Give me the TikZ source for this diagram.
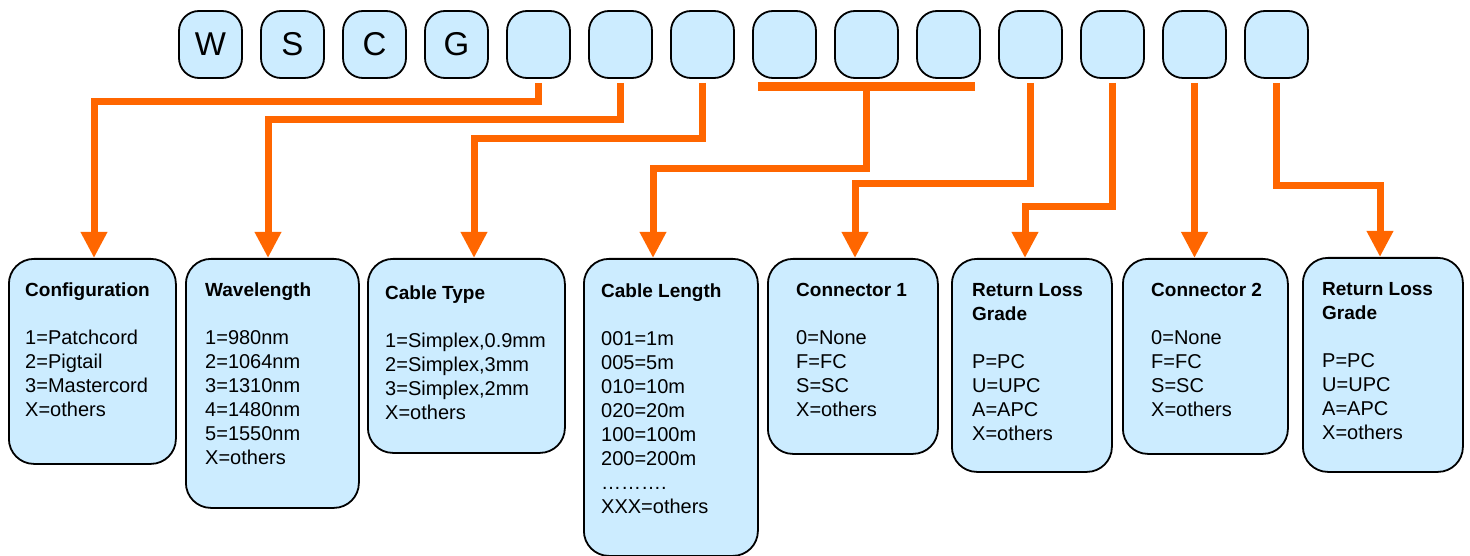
\documentclass[tikz,border=0pt]{standalone}
\usepackage{fontspec}
\setmainfont{Liberation Sans}
\usetikzlibrary{arrows.meta,calc}
\definecolor{lblue}{RGB}{204,236,255}
\definecolor{org}{RGB}{255,102,0}
\tikzset{
  topbox/.style={draw=black, line width=1.8pt, rounded corners=20pt, fill=lblue,
    minimum width=63pt, minimum height=67pt, inner sep=0pt,
    font=\fontsize{33}{38}\selectfont},
  bbox/.style={draw=black, line width=1.8pt, rounded corners=25pt, fill=lblue,
    anchor=north west, inner sep=0pt},
  btext/.style={anchor=north west, inner sep=0pt, align=left,
    font=\fontsize{20}{24}\selectfont},
  conn/.style={draw=org, line width=7pt, shorten <=4pt,
    -{Triangle[length=26pt,width=25pt]}},
  barline/.style={draw=org, line width=9pt},
}
\newcommand{\ttl}[1]{{\fontsize{19}{24}\selectfont\bfseries #1}}
\begin{document}
\begin{tikzpicture}[x=1pt,y=-1pt]
\useasboundingbox (0,0) rectangle (1470,556);
% top boxes
\foreach \i/\l in {1/W,2/S,3/C,4/G,5/,6/,7/,8/,9/,10/,11/,12/,13/,14/}{
  \node[topbox] (b\i) at ({210.5+82*(\i-1)},44.5) {\l};
}
% bottom boxes
\node[bbox, minimum width=167pt, minimum height=205pt] (cfg) at (8,258) {};
\node[bbox, minimum width=173pt, minimum height=249pt] (wav) at (185,258) {};
\node[bbox, minimum width=197pt, minimum height=194pt] (typ) at (367,258) {};
\node[bbox, minimum width=174pt, minimum height=297pt] (len) at (583,258) {};
\node[bbox, minimum width=170pt, minimum height=195pt] (con1) at (767,258) {};
\node[bbox, minimum width=160pt, minimum height=213pt] (rl1) at (951,258) {};
\node[bbox, minimum width=165pt, minimum height=195pt] (con2) at (1122,258) {};
\node[bbox, minimum width=160pt, minimum height=214pt] (rl2) at (1302,257) {};
% texts
\node[btext] (cfgt) at ($(cfg.north west)+(17,21)$) {\strut\ttl{Configuration}\\[24pt]1=Patchcord\\2=Pigtail\\3=Mastercord\\X=others};
\node[btext] (wavt) at ($(wav.north west)+(20,21)$) {\strut\ttl{Wavelength}\\[24pt]1=980nm\\2=1064nm\\3=1310nm\\4=1480nm\\5=1550nm\\X=others};
\node[btext] (typt) at ($(typ.north west)+(18,24)$) {\strut\ttl{Cable Type}\\[24pt]1=Simplex,0.9mm\\2=Simplex,3mm\\3=Simplex,2mm\\X=others};
\node[btext] (lent) at ($(len.north west)+(18,22)$) {\strut\ttl{Cable Length}\\[24pt]001=1m\\005=5m\\010=10m\\020=20m\\100=100m\\200=200m\\……….\\XXX=others};
\node[btext] (con1t) at ($(con1.north west)+(29,21)$) {\strut\ttl{Connector 1}\\[24pt]0=None\\F=FC\\S=SC\\X=others};
\node[btext] (rl1t) at ($(rl1.north west)+(21,21)$) {\strut\ttl{Return Loss}\\\ttl{Grade}\\[24pt]P=PC\\U=UPC\\A=APC\\X=others};
\node[btext] (con2t) at ($(con2.north west)+(29,21)$) {\strut\ttl{Connector 2}\\[24pt]0=None\\F=FC\\S=SC\\X=others};
\node[btext] (rl2t) at ($(rl2.north west)+(20,21)$) {\strut\ttl{Return Loss}\\\ttl{Grade}\\[24pt]P=PC\\U=UPC\\A=APC\\X=others};
% elbow coordinates
\coordinate (k1) at (94,102);
\coordinate (k2) at (268,120);
\coordinate (k3) at (474,139);
\coordinate (k4) at (653,169);
\coordinate (k5) at (855,184);
\coordinate (k6) at (1025,207);
\coordinate (k8) at (1380,186);
\coordinate (t1) at ($(b8.south west)+(6,8)$);
\coordinate (t2) at ($(b10.south east)+(-6,8)$);
% connectors
\draw[conn] (b5.south) |- (k1) -- (k1 |- cfg.north);
\draw[conn] (b6.south) |- (k2) -- (k2 |- wav.north);
\draw[conn] (b7.south) |- (k3) -- (k3 |- typ.north);
\draw[barline] (t1) -- (t2);
\draw[conn, shorten <=0pt] (b9.south |- t1) |- (k4) -- (k4 |- len.north);
\draw[conn] (b11.south) |- (k5) -- (k5 |- con1.north);
\draw[conn] (b12.south) |- (k6) -- (k6 |- rl1.north);
\draw[conn] (b13.south) -- (b13.south |- con2.north);
\draw[conn] (b14.south) |- (k8) -- (k8 |- rl2.north);
\end{tikzpicture}
\end{document}
